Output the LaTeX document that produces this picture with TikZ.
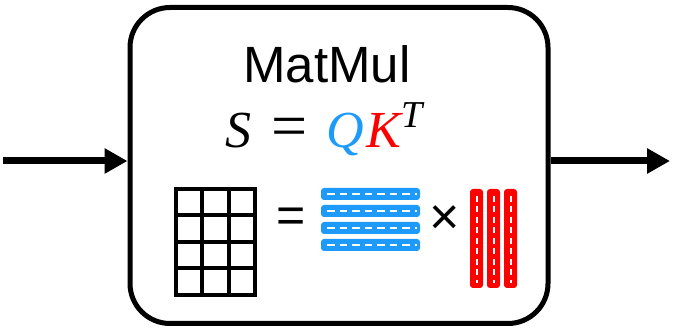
\documentclass[tikz,border=0pt]{standalone}
\usepackage{fontspec}
\setmainfont{Liberation Sans}
\newfontfamily\formulafont{Liberation Serif}
\usepackage{xcolor}
\usetikzlibrary{arrows.meta, positioning, calc}
\definecolor{qblue}{RGB}{30,155,250}
\definecolor{kred}{RGB}{255,0,0}
\tikzstyle{arrow} = [line width=7pt,-{Triangle[length=23pt,width=24pt]}]
\tikzstyle{opbox} = [draw, line width=5pt, rounded corners=40pt, minimum width=418pt, minimum height=316pt]

\begin{document}
\begin{tikzpicture}[x=1pt, y=-1pt]
    \useasboundingbox (0,0) rectangle (673,331);

    % Caja
    \node[opbox] (box) at (339,165.5) {};

    % Flechas
    \coordinate (in) at (3,161);
    \coordinate (out) at (670,161);
    \draw[arrow] (in) -- (in -| box.west);
    \draw[arrow] (out -| box.east) -- (out);

    % Titulo y formula
    \node[font=\fontsize{51}{60}\selectfont, anchor=base] (title) at (327,83) {MatMul};
    \node[font=\formulafont\fontsize{52}{60}\selectfont, anchor=base west, inner sep=0pt] (formula) at (225,148)
        {\textit{S}\hspace{20pt}{\fontsize{64}{60}\selectfont =}\hspace{19pt}\textit{\textcolor{qblue}{Q}\hspace{3pt}\textcolor{kred}{K}}\raisebox{20pt}{\fontsize{38}{40}\selectfont\textit{T}}};

    % Matriz S
    \draw[line width=4.5pt] (176,189) rectangle (255,295);
    \foreach \x in {1,2}
        \draw[line width=4pt] ({176+79/3*\x},189) -- ({176+79/3*\x},295);
    \foreach \y in {1,2,3}
        \draw[line width=4pt] (176,{189+26.5*\y}) -- (255,{189+26.5*\y});

    % Signos
    \node[font=\fontsize{50}{60}\selectfont] (eq) at (291.5,220) {=};
    \node[font=\fontsize{52}{60}\selectfont] (times) at (444.5,220) {×};

    % Filas Q (azul)
    \foreach \i in {0,...,3} {
        \fill[qblue, rounded corners=3pt] (321,{188+17*\i}) rectangle (420,{200+17*\i});
        \draw[white, line width=2pt, dash pattern=on 7.5pt off 5pt] (327,{194+17*\i}) -- (417,{194+17*\i});
    }

    % Columnas K^T (rojo)
    \foreach \j in {0,1,2} {
        \fill[kred, rounded corners=3pt] ({470+17*\j},189) rectangle ({483+17*\j},288);
        \draw[white, line width=2pt, dash pattern=on 6pt off 4.5pt] ({476.5+17*\j},196) -- ({476.5+17*\j},283);
    }
\end{tikzpicture}
\end{document}
